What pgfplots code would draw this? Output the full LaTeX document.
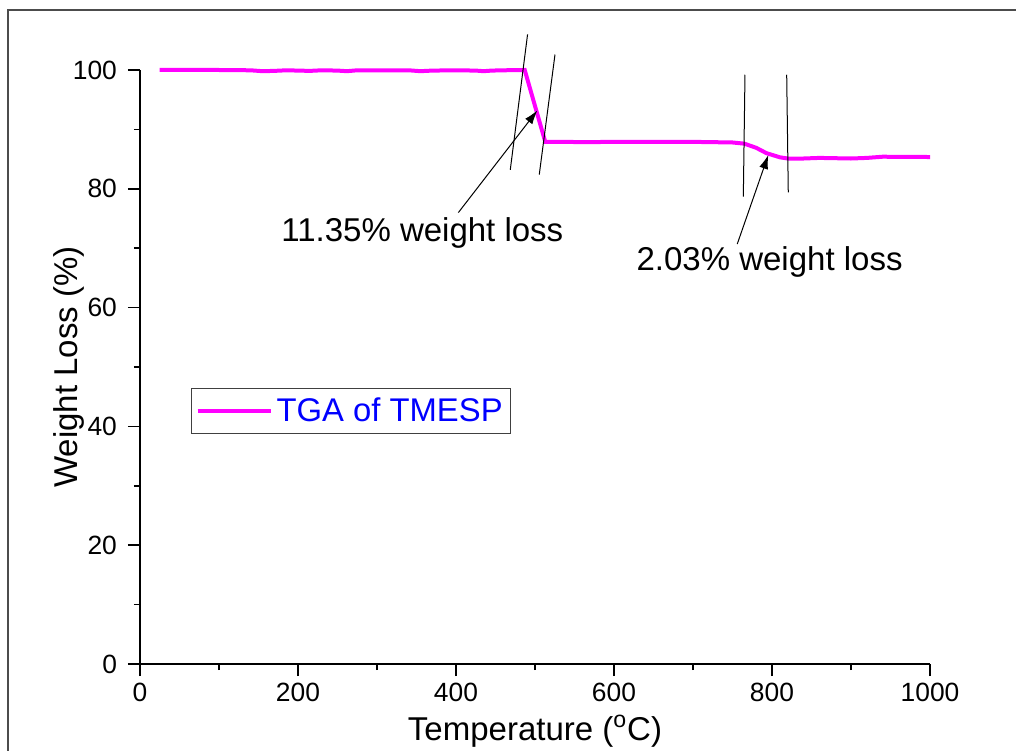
\documentclass[border=0pt]{standalone}
\usepackage{fontspec}
\setmainfont{Liberation Sans}
\usepackage{pgfplots}
\pgfplotsset{compat=1.18}
\usetikzlibrary{arrows.meta}
\definecolor{tgamag}{RGB}{255,0,255}
\begin{document}
\begin{tikzpicture}
\begin{axis}[
  scale only axis, width=395pt, height=297pt,
  xmin=0, xmax=1000, ymin=0, ymax=100,
  axis x line=bottom, axis y line=left,
  axis line style={-, line width=1pt, black},
  xtick={0,200,...,1000}, ytick={0,20,...,100},
  minor x tick num=1, minor y tick num=1,
  tick align=outside, major tick length=6pt, minor tick length=3pt,
  tick style={black, line width=0.8pt},
  tick label style={font=\fontsize{13.2}{15}\selectfont},
  yticklabel style={xshift=-2pt},
  /pgf/number format/assume math mode=true,
  /pgf/number format/1000 sep={},
  clip=false,
  xlabel={Temperature (\textsuperscript{o}C)},
  ylabel={Weight Loss (\%)},
  every axis x label/.style={at={(axis description cs:0.5,0)}, anchor=base, yshift=-38pt, font=\fontsize{16.5}{19}\selectfont},
  every axis y label/.style={at={(axis description cs:-0.0797,0.5)}, anchor=base, rotate=90, font=\fontsize{16.5}{19}\selectfont},
  legend style={at={(axis description cs:0.0646,0.387)}, anchor=south west,
    draw=black!75, line width=0.6pt, font=\fontsize{16.4}{19}\selectfont, text=blue,
    inner xsep=2pt, inner ysep=2.5pt},
  legend image code/.code={\draw[#1] (0pt,0pt) -- (36.5pt,0pt);},
]
\addplot[tgamag, line width=2pt] coordinates {
(25,100) (100,100) (140,99.95) (155,99.8) (170,99.85) (185,99.95) (200,99.9)
(215,99.85) (230,99.95) (250,99.9) (262,99.8) (275,99.95) (300,99.95)
(340,99.95) (355,99.8) (370,99.9) (400,99.95) (425,99.9) (435,99.8)
(445,99.9) (460,99.95) (487,100) (513,87.9) (540,87.9) (560,87.85)
(600,87.9) (700,87.9) (750,87.8) (765,87.6) (780,86.9) (793,86.0)
(810,85.3) (820,85.1) (840,85.1) (860,85.2) (900,85.1) (920,85.2)
(940,85.4) (1000,85.35)
};
\addlegendentry{TGA of TMESP}
\draw[black, line width=0.5pt] (axis cs:490.6,106) -- (axis cs:468.7,83.2);
\draw[black, line width=0.5pt] (axis cs:525.3,102.6) -- (axis cs:505.4,82.4);
\draw[black, line width=0.5pt] (axis cs:765.8,99.2) -- (axis cs:763.7,78.7);
\draw[black, line width=0.5pt] (axis cs:818.6,99.2) -- (axis cs:820.6,79.4);
\draw[black, line width=0.5pt, -{Latex[length=7pt,width=4.5pt]}] (axis cs:403,76) -- (axis cs:503,93.2);
\draw[black, line width=0.5pt, -{Latex[length=7pt,width=4.5pt]}] (axis cs:756,70.7) -- (axis cs:795.3,85.7);
\node[anchor=base west, inner sep=0pt, font=\fontsize{16.5}{19}\selectfont] at (axis cs:178.5,71.1) {11.35\% weight loss};
\node[anchor=base east, inner sep=0pt, font=\fontsize{16.5}{19}\selectfont] at (axis cs:965.8,66.3) {2.03\% weight loss};
\end{axis}
\pgfresetboundingbox
\useasboundingbox (-70pt,-43pt) rectangle (438pt,332pt);
\draw[black!70, line width=0.7pt] (-66pt,-60pt) rectangle (460pt,327pt);
\end{tikzpicture}
\end{document}
